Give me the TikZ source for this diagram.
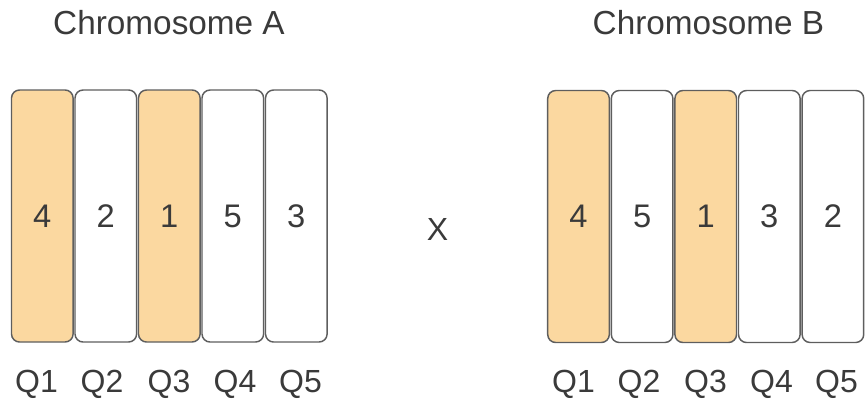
\documentclass[tikz,border=0pt]{standalone}
\usepackage{fontspec}
\setmainfont{Liberation Sans}
\definecolor{txt}{HTML}{3A3A3A}
\definecolor{edge}{HTML}{5E5E5E}
\definecolor{gene}{HTML}{FBD8A0}
\begin{document}
\begin{tikzpicture}[x=0.75pt,y=-0.75pt,
  slot/.style={draw=edge,line width=1.1pt,rounded corners=6pt,fill=white,
    minimum width=46.2pt,minimum height=189pt,inner sep=0pt,
    text=txt,font=\fontsize{24.5}{29}\selectfont},
  hit/.style={slot,fill=gene},
  lbl/.style={text=txt,inner sep=0pt,font=\fontsize{24}{29}\selectfont},
  ttl/.style={text=txt,inner sep=0pt,font=\fontsize{25}{30}\selectfont}]
\useasboundingbox (0,0) rectangle (868,405);
% Chromosome A
\node[ttl] (ta) at (169,23) {Chromosome A};
\node[hit]  (a1) at (42.3,216) {4};
\node[slot] (a2) at (105.8,216) {2};
\node[hit]  (a3) at (169.3,216) {1};
\node[slot] (a4) at (232.8,216) {5};
\node[slot] (a5) at (296.3,216) {3};
\node[lbl] (qa1) at (36.5,384) {Q1};
\node[lbl] (qa2) at (102,384) {Q2};
\node[lbl] (qa3) at (169,384) {Q3};
\node[lbl] (qa4) at (235,384) {Q4};
\node[lbl] (qa5) at (300.5,384) {Q5};
% cross
\node[lbl] (x) at (437.5,229) {X};
% Chromosome B
\node[ttl] (tb) at (708.5,23) {Chromosome B};
\node[hit]  (b1) at (578.5,216.5) {4};
\node[slot] (b2) at (642.1,216.5) {5};
\node[hit]  (b3) at (705.7,216.5) {1};
\node[slot] (b4) at (769.3,216.5) {3};
\node[slot] (b5) at (832.9,216.5) {2};
\node[lbl] (qb1) at (573.5,384) {Q1};
\node[lbl] (qb2) at (639,384) {Q2};
\node[lbl] (qb3) at (705.5,384) {Q3};
\node[lbl] (qb4) at (771.5,384) {Q4};
\node[lbl] (qb5) at (836.5,384) {Q5};
\end{tikzpicture}
\end{document}
